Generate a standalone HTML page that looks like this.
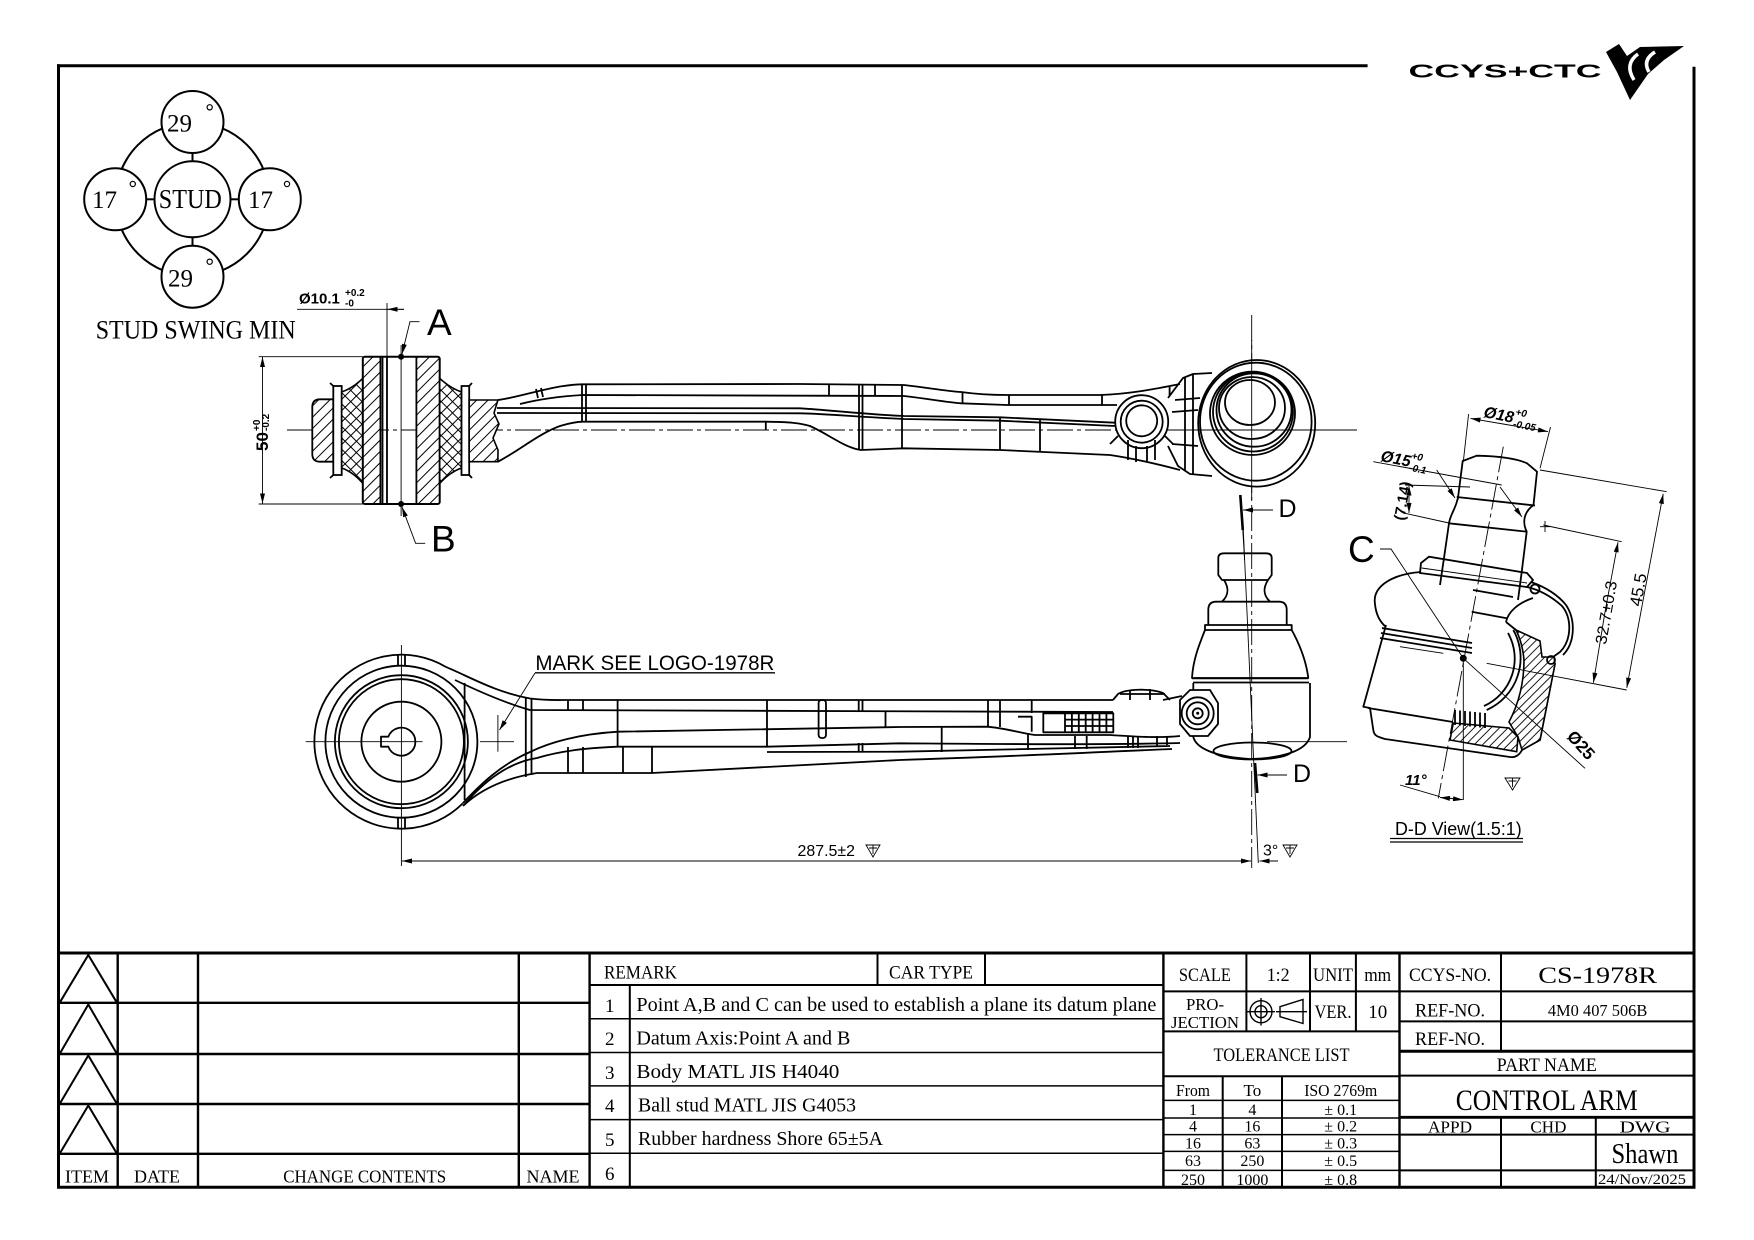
<!DOCTYPE html>
<html><head><meta charset="utf-8">
<style>
html,body{margin:0;padding:0;background:#fff;}
svg{display:block;}
.sf{font-family:"Liberation Serif","DejaVu Serif",serif;}
.ss{font-family:"Liberation Sans","DejaVu Sans",sans-serif;}
.o{fill:none;stroke:#000;stroke-width:1.8;stroke-linejoin:round;}
.w{fill:#fff;stroke:#000;stroke-width:1.8;}
.t{fill:none;stroke:#000;stroke-width:0.9;}
.c{fill:none;stroke:#000;stroke-width:0.9;stroke-dasharray:26 4 4 4;}
.L{fill:none;stroke:#000;stroke-width:2.2;}
.T{fill:none;stroke:#000;stroke-width:1.4;}
</style></head><body>
<svg width="1754" height="1240" viewBox="0 0 1754 1240" xmlns="http://www.w3.org/2000/svg">
<defs>
<pattern id="hh" width="8" height="8" patternUnits="userSpaceOnUse" patternTransform="rotate(45)"><rect width="8" height="8" fill="#fff"/><path d="M4,0 V8" stroke="#000" stroke-width="1"/></pattern>
<pattern id="hs" width="6" height="6" patternUnits="userSpaceOnUse" patternTransform="rotate(45)"><rect width="6" height="6" fill="#fff"/><path d="M3,0 V6" stroke="#000" stroke-width="0.9"/></pattern>
<pattern id="xh" width="8" height="8" patternUnits="userSpaceOnUse" patternTransform="rotate(45)"><rect width="8" height="8" fill="#fff"/><path d="M4,0 V8 M0,4 H8" stroke="#000" stroke-width="1"/></pattern>
<marker id="a" viewBox="0 0 12 6" refX="12" refY="3" markerWidth="11" markerHeight="5" markerUnits="userSpaceOnUse" orient="auto-start-reverse"><path d="M0,0L12,3L0,6z" fill="#000"/></marker>
</defs>

<!-- FRAME -->
<line x1="57" y1="65.7" x2="1367.6" y2="65.7" stroke="#000" stroke-width="3"/>
<line x1="58.5" y1="64.2" x2="58.5" y2="1188.5" stroke="#000" stroke-width="3"/>
<line x1="1694" y1="66.7" x2="1694" y2="1188.5" stroke="#000" stroke-width="3"/>
<line x1="57" y1="1187.3" x2="1695.5" y2="1187.3" stroke="#000" stroke-width="3"/>
<line x1="57" y1="953" x2="1695.5" y2="953" stroke="#000" stroke-width="3"/>

<!-- LOGO -->
<text x="1408.5" y="77.5" class="ss" font-weight="bold" font-size="18" textLength="193" lengthAdjust="spacingAndGlyphs">CCYS+CTC</text>
<path d="M1606,52 L1619,44 L1627,56 L1640,47 L1684,46 L1664,60 L1648,74 L1630,100 L1617,72 Z" fill="#000"/>
<path d="M1634,80 Q1624,64 1638,54" stroke="#fff" stroke-width="3.5" fill="none"/>
<path d="M1649,72 Q1642,60 1655,52" stroke="#fff" stroke-width="3.5" fill="none"/>

<!-- STUD SWING -->
<g stroke="#000" stroke-width="2" fill="none">
<circle cx="192.5" cy="199.3" r="77"/>
<line x1="192.5" y1="153" x2="192.5" y2="161.3"/>
<line x1="192.5" y1="237.3" x2="192.5" y2="245.7"/>
<line x1="146.2" y1="199.3" x2="154.5" y2="199.3"/>
<line x1="230.5" y1="199.3" x2="238.8" y2="199.3"/>
<circle cx="192.5" cy="122" r="31" fill="#fff"/>
<circle cx="192.5" cy="276.7" r="31" fill="#fff"/>
<circle cx="115.2" cy="199.3" r="31" fill="#fff"/>
<circle cx="269.8" cy="199.3" r="31" fill="#fff"/>
<circle cx="192.5" cy="199.3" r="38" fill="#fff"/>
</g>
<g stroke="#000" stroke-width="1.2" fill="none">
<circle cx="209.7" cy="107.3" r="2.6"/><circle cx="209.7" cy="261.7" r="2.6"/>
<circle cx="132.8" cy="184" r="2.6"/><circle cx="287" cy="184" r="2.6"/>
</g>
<g class="sf" font-size="25">
<text x="167" y="131.7">29</text>
<text x="168" y="286.7">29</text>
<text x="92" y="208">17</text>
<text x="248" y="208">17</text>
<text x="158.8" y="208" font-size="27" textLength="63" lengthAdjust="spacingAndGlyphs">STUD</text>
<text x="95.7" y="338.5" font-size="26" textLength="200" lengthAdjust="spacingAndGlyphs">STUD SWING MIN</text>
</g>

<!-- TOP VIEW -->
<line class="c" x1="287" y1="430" x2="1357" y2="430"/>
<line class="c" x1="1251.7" y1="315" x2="1251.7" y2="868"/>
<!-- bushing -->
<path d="M333.3,399.3 L320,399.3 Q312.3,399.3 312.3,407 L312.3,454 Q312.3,461.7 320,461.7 L333.3,461.7 Z" fill="url(#hh)" stroke="#000" stroke-width="1.8"/>
<rect x="333.3" y="386" width="8.4" height="89" class="w"/>
<path d="M333.3,386 L330,383 M333.3,475 L330,478" class="o"/>
<path d="M341.7,392 Q353,388 362.8,378.3 L362.8,483.3 Q353,472 341.7,468 Z" fill="url(#xh)" stroke="#000" stroke-width="1.6"/>
<rect x="362.8" y="356.7" width="17.6" height="147.3" fill="url(#hh)"/>
<rect x="416.4" y="356.7" width="23.3" height="147.3" fill="url(#hh)"/>
<rect x="362.8" y="356.7" width="76.9" height="147.3" rx="2" fill="none" stroke="#000" stroke-width="2"/>
<path d="M380.4,356.7 V504 M382.5,356.7 V504 M387,356.7 V504 M416.4,356.7 V504" class="o" stroke-width="1.4"/>
<line class="t" x1="401.1" y1="345" x2="401.1" y2="516"/>
<path d="M439.7,378.3 Q450,388 461.5,392 L461.5,468 Q450,472 439.7,483.3 Z" fill="url(#xh)" stroke="#000" stroke-width="1.6"/>
<rect x="461.5" y="386" width="7.7" height="89" class="w"/>
<path d="M469.2,386 L472,383 M469.2,475 L472,478" class="o"/>
<path d="M469.2,400 L497.9,400 L494,413 L499,424 L493,438 L498,450 L497.9,461.7 L469.2,461.7 Z" fill="url(#hh)" stroke="#000" stroke-width="1.6"/>
<circle cx="401.1" cy="356.7" r="3" fill="#000"/>
<circle cx="401.1" cy="504" r="3" fill="#000"/>
<!-- A / B leaders -->
<path d="M419.4,321.7 L410,321.7 L402,354" class="t" marker-end="url(#a)"/>
<path d="M425.2,543.3 L415.6,543.3 L402,507" class="t" marker-end="url(#a)"/>
<text x="427" y="335" class="ss" font-size="37">A</text>
<text x="431" y="551.7" class="ss" font-size="37">B</text>
<!-- dim Ø10.1 -->
<line class="t" x1="387" y1="303" x2="387" y2="356.7"/>
<path d="M297,309.3 L404,309.3" class="t"/>
<path d="M404,309.3 L387.5,309.3" class="t" marker-end="url(#a)"/>
<text x="299" y="303.5" class="ss" font-size="15" font-weight="bold">Ø10.1</text>
<text x="345" y="296" class="ss" font-size="10" font-weight="bold">+0.2</text>
<text x="345" y="306.5" class="ss" font-size="10" font-weight="bold">-0</text>
<!-- dim 50 -->
<line class="t" x1="258.7" y1="356.7" x2="362.8" y2="356.7"/>
<line class="t" x1="258.7" y1="504" x2="362.8" y2="504"/>
<path d="M262.5,360 L262.5,357.5 M262.5,430 L262.5,357" class="t" marker-end="url(#a)"/>
<path d="M262.5,430 L262.5,503.5" class="t" marker-end="url(#a)"/>
<g transform="translate(268,451) rotate(-90)" class="ss" font-weight="bold">
<text x="0" y="0" font-size="17">50</text>
<text x="20" y="-8" font-size="10">+0</text>
<text x="20" y="1" font-size="10">-0.2</text>
</g>
<!-- arm top view -->
<path class="o" d="M497.9,400 C515,398 535,391 560,386.5 C570,385 578,384.3 583,384.3 L800,384 L904,385 C930,388 945,391 961,392 C975,394 990,395 1007,395 L1100,395 C1130,394 1155,389 1180,384"/>
<path class="o" stroke-width="1.5" d="M520,404 C540,399 565,396 583,395 L904,396 C930,399 945,402 961,403.3 L1007,405 L1117,405"/>
<path class="o" stroke-width="1.5" d="M497,408 L800,408.3 C830,410 860,414 904,416 L1000,417.3 L1115,422.7"/>
<path class="o" stroke-width="1.5" d="M497,413 L800,413.3 C830,414 860,417 904,419 L1000,420.7 L1115,426"/>
<path class="o" d="M497.9,461.7 C520,450 540,433 560,426 C570,423 578,421.7 583,421.7 L766,421.7 C790,422 800,423 810,426 C830,435 845,448 861,450 L904,448.3 L1000,450 L1110,455 C1130,458 1150,462 1180,470"/>
<path class="o" stroke-width="1.4" d="M582,384.3 V421.7 M586,384.3 V421.7 M536,389 L538,398 M541,388 L543,397 M829,384 V395 M859,384 V450 M862.5,384 V450 M875,384 V395 M902,385 V449 M962.5,392 V403.3 M1009,395 V405 M1102,395 V405 M1169.6,386 V396 M765.8,421.7 V430 M1000,417.3 V450 M1040,420 V452"/>
<!-- eye top -->
<circle cx="1141.7" cy="421.7" r="26.5" class="w" stroke-width="2"/>
<circle cx="1141.7" cy="421.7" r="21" class="o" stroke-width="1.3"/>
<circle cx="1141.7" cy="420.8" r="15.5" class="o"/>
<path class="o" stroke-width="1.3" d="M1128,440 V460 M1136,446 V462 M1147,446 V462 M1155,440 V460 M1118,436 L1110,444 M1165,436 L1173,444"/>
<!-- ball joint top -->
<path class="o" d="M1168,398 L1183,378 L1193,374 L1212,373 M1168,446 L1178,466 L1190,474 L1212,476 M1175,400 L1200,398 M1172,412 L1198,410 M1172,444 L1198,446 M1185,378 V470 M1193,374 V474"/>
<ellipse cx="1256.7" cy="423.3" rx="58.5" ry="63.3" class="w" stroke-width="2.2"/>
<ellipse cx="1255.8" cy="421.7" rx="55.8" ry="59" class="o" stroke-width="1.4"/>
<ellipse cx="1252.5" cy="413.3" rx="42.5" ry="41.7" class="o" stroke-width="1.6"/>
<ellipse cx="1253" cy="412" rx="40" ry="39.5" class="o" stroke-width="1.3"/>
<ellipse cx="1254" cy="410" rx="37.5" ry="36.7" class="o" stroke-width="1.3"/>
<ellipse cx="1252" cy="408" rx="33" ry="31" class="o" stroke-width="1.2"/>
<ellipse cx="1250" cy="402.5" rx="25" ry="22.5" class="o" stroke-width="2"/>
<line class="t" x1="1251.7" y1="340" x2="1251.7" y2="500"/>
<line class="t" x1="1168" y1="430" x2="1357" y2="430"/>
<!-- section D top -->
<path d="M1240.3,495 L1242.8,530" stroke="#000" stroke-width="2.6"/>
<line class="t" x1="1242.8" y1="530" x2="1244.6" y2="560"/>
<path d="M1273,510 L1243,510" class="t" stroke-width="1.4" marker-end="url(#a)"/>
<text x="1278.5" y="517" class="ss" font-size="25">D</text>

<!-- BOTTOM VIEW -->
<path class="o" stroke-width="2.4" d="M446.2,667.1 A87,87 0 1 0 462.9,803.2"/>
<circle cx="401.4" cy="741.7" r="76" class="o" stroke-width="1.8"/>
<circle cx="401.4" cy="741.7" r="66.5" class="o" stroke-width="3"/>
<circle cx="401.4" cy="741.7" r="62.5" class="o" stroke-width="2"/>
<circle cx="401.4" cy="741.7" r="40" class="o" stroke-width="3"/>
<path class="o" stroke-width="2.2" d="M388.3,736.7 L381,736.7 L381,746.7 L388.3,746.7 A14,14 0 1 0 388.3,736.7 Z"/>
<path class="o" stroke-width="1.6" d="M398,654.7 V665.7 M405,654.7 V665.7 M398,817.7 V828.7 M405,817.7 V828.7"/>
<line class="t" x1="305.7" y1="741.7" x2="422.5" y2="741.7"/>
<line class="t" x1="480" y1="741.7" x2="514" y2="741.7"/>
<line class="t" x1="401.4" y1="645" x2="401.4" y2="866"/>
<!-- arm bottom -->
<path class="o" d="M446.2,667.1 C470,677 495,692 530,698.5 C545,700.5 555,700 568,700 L1113,700"/>
<path class="o" stroke-width="1.5" d="M455,680 C480,692 505,703 530,710 L1113,712"/>
<path class="o" stroke-width="1.6" d="M463,803 C480,785 500,765 530,752 C550,742 580,734 618,731.7 L900,727 L987,726.7 C1005,728 1020,733 1035,735 L1110,735 C1140,737 1160,738 1180,736"/>
<path class="o" stroke-width="1.6" d="M464,805 C485,780 510,762 537,758 C560,751 585,748 618,746.7 L767,746.7 L900,743.3 C1000,744 1100,745 1180,743"/>
<path class="o" stroke-width="1.3" d="M767,752 L900,751.7 L1170,746"/>
<path class="o" d="M463,806 C480,790 505,778 537,773 L652,773 L900,760 C1000,757 1100,752 1172,749"/>
<path class="o" stroke-width="1.4" d="M464.6,683 V800 M525.8,698 V777 M531.5,698 V775 M617.6,700 V746.7 M767,700 V746.7 M568,700 V711 M583,700 V711 M568,747 V773 M583,747 V773 M623,747 V773 M652,747 V773 M858.7,700 V711 M862.5,700 V711 M858.7,743 V752 M862.5,743 V752 M885.5,711 V727 M988,700 V727 M1000,700 V727 M1031.7,700 V713 M941.7,727 V752 M1028,733 V750 M1075,736 V749 M1086.7,736 V749 M1128,736 V748 M1133,736 V748 M1138,736 V748 M1157,736 V746 M1167,736 V745"/>
<rect x="818.6" y="700" width="7.4" height="38" rx="3" class="o" stroke-width="1.4"/>
<path class="o" d="M1018,716.7 L1031.7,716.7 L1031.7,731.7" stroke-width="1.8"/>
<rect x="1043.3" y="713.3" width="70" height="19" class="o" stroke-width="1.6"/>
<path class="o" stroke-width="1.2" d="M1065,713.3 V732.3 M1071.9,713.3 V732.3 M1078.8,713.3 V732.3 M1085.7,713.3 V732.3 M1092.6,713.3 V732.3 M1099.5,713.3 V732.3 M1106.4,713.3 V732.3 M1065,719.6 H1113.3 M1065,726 H1113.3"/>
<path class="o" stroke-width="1.6" d="M1113,700 L1118,694 C1126,689 1150,688 1163,693 L1170,700 M1130,690 V700 M1150,689 V700 M1120,694 H1165 M1163,700 L1182,696"/>
<!-- ball stud side view -->
<path class="o" d="M1222,580 L1218.3,575 L1218.3,558 Q1218.3,553.3 1224,553.3 L1266,553.3 Q1271.7,553.3 1271.7,558 L1271.7,575 L1268,580 Z"/>
<path class="o" d="M1224,580 C1229,588 1229,595 1222,601.7 M1268,580 C1263,588 1263,595 1270,601.7"/>
<path class="o" d="M1208.3,625 L1208.3,610 Q1208.3,601.7 1216,601.7 L1279,601.7 Q1286.7,601.7 1286.7,610 L1286.7,625"/>
<rect x="1205" y="625" width="86.7" height="5" class="o" stroke-width="2.6"/>
<path class="o" d="M1205,630 C1199,645 1193,660 1192,678 L1308.3,678 C1306,660 1300,645 1291.7,630"/>
<path class="o" stroke-width="2.4" d="M1192,678.3 L1308.3,678.3 M1193,682.5 L1309,682.5"/>
<path class="o" d="M1193.3,683 L1193.3,737 C1196,748 1215,757 1250,759 C1285,758 1306,750 1310,737 L1310,683"/>
<ellipse cx="1252.5" cy="751" rx="39" ry="8.5" class="o"/>
<polygon points="1180,700 1190,690 1210,690 1218,703 1218,724 1208,736 1190,736 1180,724" class="w" stroke-width="1.6"/>
<circle cx="1197.7" cy="713.3" r="16" class="o"/>
<circle cx="1197.7" cy="713.3" r="11" class="o" stroke-width="1.5"/>
<circle cx="1197.7" cy="713.3" r="5" class="o" stroke-width="1.5"/>
<circle cx="1197.7" cy="713.3" r="1.5" fill="#000"/>
<line class="t" x1="1243.3" y1="530" x2="1258.3" y2="863"/>
<line class="t" x1="1267" y1="741.7" x2="1347" y2="741.7"/>
<line class="t" x1="1357" y1="430" x2="1357" y2="430"/>
<!-- section D bottom -->
<path d="M1255,763 L1257.3,793" stroke="#000" stroke-width="2.6"/>
<path d="M1287,775 L1257.5,775" class="t" stroke-width="1.4" marker-end="url(#a)"/>
<text x="1293" y="782" class="ss" font-size="25">D</text>
<!-- MARK note -->
<text x="535.4" y="670" class="ss" font-size="21" textLength="239" lengthAdjust="spacingAndGlyphs">MARK SEE LOGO-1978R</text>
<line x1="535" y1="672.8" x2="775" y2="672.8" stroke="#000" stroke-width="1.4"/>
<path d="M535,673 L499.5,730" class="t" marker-end="url(#a)"/>
<line class="t" x1="497.9" y1="715" x2="497.9" y2="751.7"/>
<!-- dim 287.5 -->
<path d="M826,861 L402,861" class="t" marker-end="url(#a)"/>
<path d="M826,861 L1251,861" class="t" marker-end="url(#a)"/>
<text x="797.5" y="856" class="ss" font-size="16" textLength="57.5" lengthAdjust="spacingAndGlyphs">287.5±2</text>
<path d="M866,845 L880,845 L873,857 Z M873,845 V854 M869,848 H877" class="t" stroke-width="1"/>
<path d="M1278,861 L1259.5,861" class="t" marker-end="url(#a)"/>
<text x="1263" y="855.5" class="ss" font-size="16">3°</text>
<path d="M1283,845 L1297,845 L1290,857 Z M1290,845 V854 M1286,848 H1294" class="t" stroke-width="1"/>

<!-- D-D VIEW -->
<text x="1348" y="562" class="ss" font-size="37">C</text>
<path d="M1380,549 L1391,549 L1463.3,658.3" class="t"/>
<path class="o" d="M1457.7,500 L1462.7,461 L1476.7,455.7 C1500,456 1518,459 1527,463.3 L1537,471.7 L1533.5,505"/>
<path class="o" d="M1456.7,497 L1535,505.5"/>
<path class="o" d="M1457.5,499 C1456,508 1450,515 1449,523.3 L1444,558"/>
<path class="o" d="M1533.5,505 C1524,512 1522,522 1526.7,531.7 L1521.7,572"/>
<path class="o" d="M1449,523.3 L1527,531.7"/>
<path class="w" d="M1420,573 L1421,563 L1429,556.7 L1527,573 L1533,580 L1527,587 Z"/>
<path class="t" d="M1421.7,568 L1527,583"/>
<path class="o" d="M1421,572 C1393,574 1372,586 1375,604 C1376,615 1380,622 1386,627"/>
<path class="o" d="M1386,625 L1363.3,706.7 L1370,708 L1373.3,730 C1374,736 1378,737 1385,739 L1510,757 C1516,758 1520,754 1522,750 L1540,740 L1555,663.3"/>
<path class="o" stroke-width="1.4" d="M1382,628 L1472,643 M1381,633 L1472,648 M1380,638 L1472,653 M1368,708 L1453,722"/>
<path d="M1516,630 L1540,641 L1542,657 L1554,657 L1555,664 L1540,740 L1522,750 L1518,737 L1509,722 C1518,705 1524,685 1524,660 C1523,648 1520,638 1516,630 Z" fill="url(#hs)" stroke="#000" stroke-width="1.6"/>
<path d="M1453.3,723 L1509,728 L1518,737 L1516.7,751.7 L1450,740 Z" fill="url(#hs)" stroke="#000" stroke-width="1.6"/>
<path class="o" d="M1513.3,630 A57,57 0 0 1 1486.7,710"/>
<path class="o" stroke-width="1.3" d="M1508,633 A52,52 0 0 1 1484,706"/>
<path class="o" d="M1527,587 C1540,590 1552,597 1562,606 C1572,618 1572,640 1560,652 L1553,657"/>
<path class="o" stroke-width="1.3" d="M1531,582 C1545,587 1558,595 1566,605 C1576,620 1575,643 1563,655"/>
<circle cx="1535" cy="589" r="4.5" class="o" stroke-width="1.4"/>
<circle cx="1551" cy="660" r="4" class="o" stroke-width="1.4"/>
<path class="o" stroke-width="1.5" d="M1506,622 C1508,612 1518,603 1533,598 M1506,622 L1516,630 M1444,558 L1440,585 M1521.7,572 L1518,600 M1473,590 L1513,597 M1471.7,611.7 L1506.7,618.3"/>
<path class="o" stroke-width="1.3" d="M1455,710 V725 M1460,710.5 V725.5 M1465,711 V726 M1470,711.5 V726.5 M1475,712 V727 M1480,712.5 V727.5 M1485,713 V728"/>
<path class="c" d="M1503.3,446.7 L1438.3,798.3"/>
<line class="t" x1="1463.3" y1="656.7" x2="1463.3" y2="800"/>
<line class="t" x1="1400" y1="646.7" x2="1443.3" y2="653.3"/>
<line class="t" x1="1486.7" y1="663.3" x2="1626.7" y2="690"/>
<circle cx="1463.3" cy="658.3" r="3.5" fill="#000"/>
<!-- D-D dims -->
<path class="t" d="M1463.3,461.7 L1468.6,414 M1540,468.3 L1550.5,427"/>
<path class="t" d="M1509,425 L1470.5,418.4" marker-end="url(#a)"/>
<path class="t" d="M1509,425 L1548,431.6" marker-end="url(#a)"/>
<g transform="translate(1483,417) rotate(11)" class="ss" font-weight="bold" font-style="italic">
<text x="0" y="0" font-size="16">Ø18</text>
<text x="31" y="-8" font-size="10">+0</text>
<text x="31" y="4" font-size="10">-0.05</text>
</g>
<path class="t" d="M1373.3,461.7 L1501.7,485"/>
<path class="t" d="M1436.7,470 L1455,498" marker-end="url(#a)"/>
<path class="t" d="M1500,487 L1522,517" marker-end="url(#a)"/>
<g transform="translate(1380,461) rotate(11)" class="ss" font-weight="bold" font-style="italic">
<text x="0" y="0" font-size="16">Ø15</text>
<text x="30" y="-8" font-size="10">+0</text>
<text x="30" y="4" font-size="10">-0.1</text>
</g>
<path class="t" d="M1405,485 L1470,487 M1405,513.3 L1449,523"/>
<path class="t" d="M1409,499 L1409,485.5" marker-end="url(#a)"/>
<path class="t" d="M1409,499 L1409,513" marker-end="url(#a)"/>
<text transform="translate(1404,521) rotate(-80)" class="ss" font-size="15" font-weight="bold">(7.14)</text>
<path class="t" d="M1543.3,525 L1621.7,541.7 M1540,526.7 L1550,526.7 M1545,521 L1545,532"/>
<path class="t" d="M1605,612 L1618,542.2" marker-end="url(#a)"/>
<path class="t" d="M1605,612 L1593.4,682.8" marker-end="url(#a)"/>
<text transform="translate(1606,645) rotate(-80)" class="ss" font-size="16" textLength="64" lengthAdjust="spacingAndGlyphs">32.7±0.3</text>
<path class="t" d="M1540,470 L1666.7,491.7"/>
<path class="t" d="M1645,590 L1663.2,493.8" marker-end="url(#a)"/>
<path class="t" d="M1645,590 L1626.8,687.8" marker-end="url(#a)"/>
<text transform="translate(1641,607) rotate(-80)" class="ss" font-size="17">45.5</text>
<path class="t" d="M1463.3,658.3 L1585,768.3"/>
<text transform="translate(1566,737) rotate(48)" class="ss" font-size="17" font-weight="bold">Ø25</text>
<path class="t" d="M1400,785 L1440,796.7"/>
<path class="t" d="M1451,798.5 L1440,797.5" marker-end="url(#a)"/>
<path class="t" d="M1451,798.5 L1463,799.7" marker-end="url(#a)"/>
<text x="1405" y="785" class="ss" font-size="15" font-weight="bold" font-style="italic">11°</text>
<path d="M1505,778 L1520,778 L1512.5,790 Z M1512.5,778 V787 M1508.5,781 H1516.5" class="t" stroke-width="1"/>
<text x="1395" y="835" class="ss" font-size="18" textLength="126.7" lengthAdjust="spacingAndGlyphs">D-D View(1.5:1)</text>
<path d="M1390,838.5 H1523 M1390,842 H1523" stroke="#000" stroke-width="1.2"/>

<!-- TABLE -->
<g stroke="#000" fill="none">
<g stroke-width="2.4">
<line x1="117.7" y1="953" x2="117.7" y2="1187"/>
<line x1="198" y1="953" x2="198" y2="1187"/>
<line x1="518.8" y1="953" x2="518.8" y2="1187"/>
<line x1="589.6" y1="953" x2="589.6" y2="1187"/>
<line x1="1163.4" y1="953" x2="1163.4" y2="1187"/>
<line x1="1399.5" y1="953" x2="1399.5" y2="1187"/>
<line x1="58.5" y1="1002.8" x2="589.6" y2="1002.8"/>
<line x1="58.5" y1="1054" x2="589.6" y2="1054"/>
<line x1="58.5" y1="1104" x2="589.6" y2="1104"/>
<line x1="58.5" y1="1153.8" x2="589.6" y2="1153.8"/>
</g>
<g stroke-width="2">
<polyline points="59.6,1002.8 88.3,955 117,1002.8"/>
<polyline points="59.6,1054 88.3,1004.5 117,1054"/>
<polyline points="59.6,1104 88.3,1055.5 117,1104"/>
<polyline points="59.6,1153.8 88.3,1105.5 117,1153.8"/>
<line x1="629.8" y1="985" x2="629.8" y2="1187"/>
<line x1="877.5" y1="953" x2="877.5" y2="985"/>
<line x1="985" y1="953" x2="985" y2="985"/>
<line x1="589.6" y1="985" x2="1163.4" y2="985"/>
</g>
<g stroke-width="1.5">
<line x1="589.6" y1="1018.8" x2="1163.4" y2="1018.8"/>
<line x1="589.6" y1="1052.5" x2="1163.4" y2="1052.5"/>
<line x1="589.6" y1="1085.9" x2="1163.4" y2="1085.9"/>
<line x1="589.6" y1="1119.6" x2="1163.4" y2="1119.6"/>
<line x1="589.6" y1="1153.3" x2="1163.4" y2="1153.3"/>
</g>
<g stroke-width="2">
<line x1="1163.4" y1="991.4" x2="1399.5" y2="991.4"/>
<line x1="1163.4" y1="1031.4" x2="1399.5" y2="1031.4"/>
<line x1="1163.4" y1="1076.3" x2="1399.5" y2="1076.3"/>
<line x1="1246.4" y1="953" x2="1246.4" y2="1031.4"/>
<line x1="1310" y1="953" x2="1310" y2="1031.4"/>
<line x1="1355.9" y1="953" x2="1355.9" y2="1031.4"/>
<line x1="1222.7" y1="1076.3" x2="1222.7" y2="1187"/>
<line x1="1282" y1="1076.3" x2="1282" y2="1187"/>
<line x1="1399.5" y1="991.4" x2="1694" y2="991.4"/>
<line x1="1399.5" y1="1021.4" x2="1694" y2="1021.4"/>
<line x1="1501" y1="953" x2="1501" y2="1051.3"/>
<line x1="1399.5" y1="1075.6" x2="1694" y2="1075.6"/>
<line x1="1399.5" y1="1134.6" x2="1694" y2="1134.6"/>
<line x1="1399.5" y1="1170.4" x2="1694" y2="1170.4"/>
<line x1="1501" y1="1117.3" x2="1501" y2="1187"/>
<line x1="1595.8" y1="1117.3" x2="1595.8" y2="1187"/>
</g>
<g stroke-width="1.5">
<line x1="1163.4" y1="1100.4" x2="1399.5" y2="1100.4"/>
<line x1="1163.4" y1="1118" x2="1399.5" y2="1118"/>
<line x1="1163.4" y1="1134.6" x2="1399.5" y2="1134.6"/>
<line x1="1163.4" y1="1151.4" x2="1399.5" y2="1151.4"/>
<line x1="1163.4" y1="1170.4" x2="1399.5" y2="1170.4"/>
</g>
<line x1="1399.5" y1="1051.3" x2="1694" y2="1051.3" stroke-width="3"/>
<line x1="1399.5" y1="1117.3" x2="1694" y2="1117.3" stroke-width="2.8"/>
<!-- projection symbol -->
<g stroke-width="1.4">
<circle cx="1261" cy="1011.7" r="11"/>
<circle cx="1261" cy="1011.7" r="6"/>
<path d="M1247,1011.7 H1275 M1261,998 V1025.5"/>
<path d="M1280,1006.7 L1303,999.5 L1303,1023.5 L1280,1016.7 Z M1276,1011.7 H1307"/>
</g>
</g>
<g class="sf" font-size="18" text-anchor="middle">
<text x="87" y="1182.5" textLength="44" lengthAdjust="spacingAndGlyphs">ITEM</text>
<text x="157" y="1182.5" textLength="46" lengthAdjust="spacingAndGlyphs">DATE</text>
<text x="364.7" y="1182.5" textLength="163" lengthAdjust="spacingAndGlyphs">CHANGE CONTENTS</text>
<text x="553" y="1182.5" textLength="53" lengthAdjust="spacingAndGlyphs">NAME</text>
<text x="609.7" y="1012" font-size="19">1</text>
<text x="609.7" y="1045" font-size="19">2</text>
<text x="609.7" y="1079" font-size="19">3</text>
<text x="609.7" y="1112" font-size="19">4</text>
<text x="609.7" y="1146" font-size="19">5</text>
<text x="609.7" y="1180" font-size="19">6</text>
</g>
<g class="sf" font-size="19">
<text x="604" y="978.5" textLength="73" lengthAdjust="spacingAndGlyphs">REMARK</text>
<text x="889" y="978.5" textLength="84" lengthAdjust="spacingAndGlyphs">CAR TYPE</text>
<text x="636.4" y="1011" font-size="20" textLength="520" lengthAdjust="spacingAndGlyphs">Point A,B and C can be used to establish a plane its datum plane</text>
<text x="636.4" y="1044.5" font-size="20" textLength="214" lengthAdjust="spacingAndGlyphs">Datum Axis:Point A and B</text>
<text x="636.4" y="1078" font-size="20" textLength="203" lengthAdjust="spacingAndGlyphs">Body MATL JIS H4040</text>
<text x="638" y="1111.5" font-size="20" textLength="218" lengthAdjust="spacingAndGlyphs">Ball stud MATL JIS G4053</text>
<text x="638" y="1145" font-size="20" textLength="245" lengthAdjust="spacingAndGlyphs">Rubber hardness Shore 65±5A</text>
</g>
<g class="sf" font-size="19" text-anchor="middle">
<text x="1204.9" y="981" textLength="52" lengthAdjust="spacingAndGlyphs">SCALE</text>
<text x="1278.2" y="981" textLength="23" lengthAdjust="spacingAndGlyphs">1:2</text>
<text x="1333" y="981" textLength="40" lengthAdjust="spacingAndGlyphs">UNIT</text>
<text x="1377.7" y="981" textLength="27" lengthAdjust="spacingAndGlyphs">mm</text>
<text x="1450" y="981" textLength="82" lengthAdjust="spacingAndGlyphs">CCYS-NO.</text>
<text x="1597.6" y="983" font-size="23" textLength="118.7" lengthAdjust="spacingAndGlyphs">CS-1978R</text>
<text x="1205" y="1010" font-size="17" textLength="38" lengthAdjust="spacingAndGlyphs">PRO-</text>
<text x="1205" y="1028" font-size="17" textLength="68" lengthAdjust="spacingAndGlyphs">JECTION</text>
<text x="1333" y="1018" textLength="37" lengthAdjust="spacingAndGlyphs">VER.</text>
<text x="1377.7" y="1018">10</text>
<text x="1450" y="1016.5" textLength="70" lengthAdjust="spacingAndGlyphs">REF-NO.</text>
<text x="1597.6" y="1016" font-size="17" textLength="99.5" lengthAdjust="spacingAndGlyphs">4M0 407 506B</text>
<text x="1450" y="1045" textLength="70" lengthAdjust="spacingAndGlyphs">REF-NO.</text>
<text x="1281.5" y="1061" textLength="136" lengthAdjust="spacingAndGlyphs">TOLERANCE LIST</text>
<text x="1546.8" y="1071" textLength="100" lengthAdjust="spacingAndGlyphs">PART NAME</text>
<text x="1546.8" y="1110" font-size="30" textLength="182" lengthAdjust="spacingAndGlyphs">CONTROL ARM</text>
<text x="1193" y="1096" font-size="17" textLength="34" lengthAdjust="spacingAndGlyphs">From</text>
<text x="1252.4" y="1096" font-size="17">To</text>
<text x="1340.7" y="1096" font-size="17" textLength="73" lengthAdjust="spacingAndGlyphs">ISO 2769m</text>
<text x="1450" y="1132.5" font-size="17" textLength="44" lengthAdjust="spacingAndGlyphs">APPD</text>
<text x="1548.4" y="1132.5" font-size="17" textLength="36" lengthAdjust="spacingAndGlyphs">CHD</text>
<text x="1645" y="1132.5" font-size="17" textLength="51" lengthAdjust="spacingAndGlyphs">DWG</text>
<text x="1645" y="1163" font-size="29" textLength="67" lengthAdjust="spacingAndGlyphs">Shawn</text>
<text x="1642" y="1184" font-size="15" textLength="88" lengthAdjust="spacingAndGlyphs">24/Nov/2025</text>
</g>
<g class="sf" font-size="16" text-anchor="middle">
<text x="1193" y="1115">1</text><text x="1252.4" y="1115">4</text><text x="1340.7" y="1115">± 0.1</text>
<text x="1193" y="1131.5">4</text><text x="1252.4" y="1131.5">16</text><text x="1340.7" y="1131.5">± 0.2</text>
<text x="1193" y="1148.5">16</text><text x="1252.4" y="1148.5">63</text><text x="1340.7" y="1148.5">± 0.3</text>
<text x="1193" y="1166">63</text><text x="1252.4" y="1166">250</text><text x="1340.7" y="1166">± 0.5</text>
<text x="1193" y="1185">250</text><text x="1252.4" y="1185">1000</text><text x="1340.7" y="1185">± 0.8</text>
</g>
</svg>
</body></html>
